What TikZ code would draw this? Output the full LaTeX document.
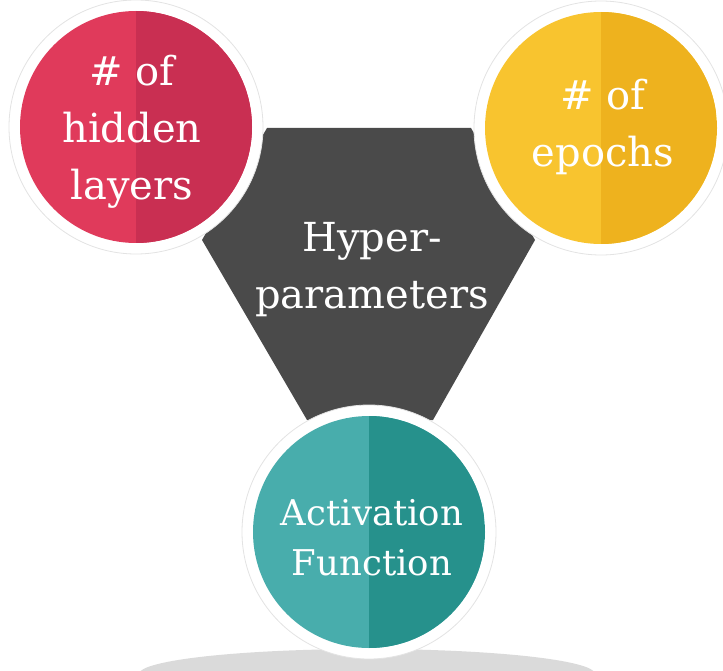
\documentclass[tikz,border=0pt]{standalone}
\usepackage{fontspec}
\setmainfont{DejaVu Serif}
\definecolor{redL}{HTML}{E03A5B}
\definecolor{redD}{HTML}{C92F52}
\definecolor{yelL}{HTML}{F8C42F}
\definecolor{yelD}{HTML}{EEB21E}
\definecolor{tealL}{HTML}{48ADAC}
\definecolor{tealD}{HTML}{26918C}
\definecolor{hexgray}{HTML}{4A4A4A}
\definecolor{shadowgray}{HTML}{DADADA}
\tikzset{
  ring/.style={circle, fill=white, draw=gray!22, line width=0.8pt, minimum size=254pt, inner sep=0pt},
  disc/.style 2 args={circle, fill=#1, minimum size=232pt, inner sep=0pt,
    path picture={\fill[#2] (path picture bounding box.north) rectangle (path picture bounding box.south east);}},
  bigtxt/.style={text=white, align=center, font=\fontsize{40}{57}\selectfont, anchor=base},
  midtxt/.style={text=white, align=center, font=\fontsize{35.5}{50}\selectfont, anchor=base},
}
\begin{document}
\begin{tikzpicture}[x=1pt,y=-1pt]
\useasboundingbox (0,0) rectangle (723,671);
% ground shadow
\begin{scope}
\clip (0,0) rectangle (723,671);
\fill[shadowgray] (367,674) ellipse [x radius=228, y radius=25];
\end{scope}
% central hexagon
\fill[hexgray] (267,128) -- (471,128) -- (535,240) -- (433,420) -- (307,420) -- (202,240) -- cycle;
% circles
\node[ring] (redring) at (136,127) {};
\node[disc={redL}{redD}] (red) at (136,127) {};
\node[ring] (yelring) at (601,128) {};
\node[disc={yelL}{yelD}] (yel) at (601,128) {};
\node[ring] (tealring) at (369,532) {};
\node[disc={tealL}{tealD}] (teal) at (369,532) {};
% texts (anchor = baseline of last line)
\node[bigtxt] (redtxt) at (132,200) {\# of\\hidden\\layers};
\node[bigtxt] (yeltxt) at (603,167) {\# of\\epochs};
\node[bigtxt] (hyptxt) at (372,308) {Hyper-\\parameters};
\node[midtxt] (tealtxt) at (372,575) {Activation\\Function};
\end{tikzpicture}
\end{document}
